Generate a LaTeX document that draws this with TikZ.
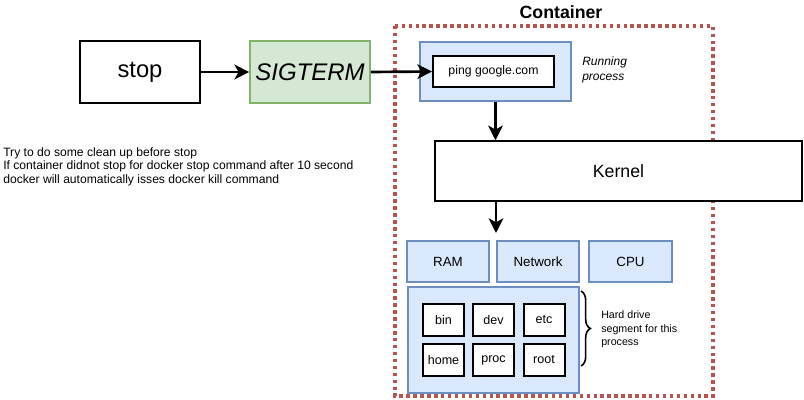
\documentclass[tikz,border=0pt]{standalone}
\usepackage{fontspec}
\setmainfont{Liberation Sans}
\usetikzlibrary{arrows.meta,decorations.pathreplacing}
\definecolor{bluefill}{HTML}{DAE8FC}
\definecolor{blueline}{HTML}{6C8EBF}
\definecolor{greenfill}{HTML}{D5E8D4}
\definecolor{greenline}{HTML}{82B366}
\definecolor{redline}{HTML}{B85450}
\tikzset{
  bigbox/.style={draw=black,line width=1.4pt,fill=white,minimum width=90pt,minimum height=46.5pt,inner sep=0pt,font=\fontsize{17.8}{21}\selectfont},
  sigbox/.style={draw=greenline,line width=1.2pt,fill=greenfill,minimum width=90pt,minimum height=46.5pt,inner sep=0pt,font=\fontsize{18}{21}\selectfont\itshape},
  bluebox/.style={draw=blueline,line width=0.9pt,fill=bluefill,inner sep=0pt},
  dirbox/.style={draw=black,line width=1.5pt,fill=white,minimum width=30.75pt,minimum height=24pt,inner sep=0pt,font=\fontsize{9.4}{11}\selectfont},
  flow/.style={-{Stealth[length=11pt,width=11pt,inset=3pt]},line width=2pt,black},
}
\begin{document}
\begin{tikzpicture}[x=0.75pt,y=-0.75pt]
\useasboundingbox (0,0) rectangle (804,400);
% container
\draw[redline,line width=2.4pt,dash pattern=on 2.6pt off 2.6pt] (395,26) rectangle (713,396);
\node[font=\fontsize{13.3}{15}\selectfont\bfseries] (ctitle) at (561,12) {Container};
% left side
\node[bigbox] (stop) at (140,72) {stop};
\node[sigbox] (sig) at (310,72) {SIGTERM};
\node[anchor=north west,align=left,inner sep=0pt,font=\fontsize{9.1}{10.2}\selectfont] (note) at (3,147)
 {Try to do some clean up before stop\\If container didnot stop for docker stop command after 10 second\\docker will automatically isses docker kill command};
% running process
\node[bluebox,minimum width=113.25pt,minimum height=44.25pt] (run) at (495.5,71.5) {};
\node[draw=black,line width=1.5pt,fill=white,minimum width=90.75pt,minimum height=23.25pt,inner sep=0pt,font=\fontsize{9.2}{11}\selectfont] (ping) at (493.5,71.5) {ping google.com};
\node[anchor=north west,align=left,inner sep=0pt,font=\fontsize{9}{11}\selectfont\itshape] (rlabel) at (582,57) {Running\\process};
% kernel
\node[draw=black,line width=1.1pt,fill=white,minimum width=275.25pt,minimum height=45pt,inner sep=0pt,font=\fontsize{13.3}{15}\selectfont] (kernel) at (618.5,171) {Kernel};
% resources
\node[bluebox,minimum width=61.5pt,minimum height=30.75pt,font=\fontsize{10}{12}\selectfont] (ram) at (448,261.5) {RAM};
\node[bluebox,minimum width=61.5pt,minimum height=30.75pt,font=\fontsize{10}{12}\selectfont] (net) at (538,261.5) {Network};
\node[bluebox,minimum width=62.25pt,minimum height=30.75pt,font=\fontsize{10}{12}\selectfont] (cpu) at (630.5,261.5) {CPU};
% hard drive
\node[bluebox,minimum width=128.25pt,minimum height=79.5pt] (hd) at (493.5,340) {};
\node[dirbox] (bin) at (443.5,320) {bin};
\node[dirbox] (dev) at (493.5,320) {dev};
\node[dirbox] (etc) at (544,320) {etc};
\node[dirbox] (home) at (443.5,360) {home};
\node[dirbox] (proc) at (493.5,360) {proc};
\node[dirbox] (root) at (544,360) {root};
\draw[decorate,decoration={brace,amplitude=7pt},line width=1.2pt] (581,291) -- (581,366);
\node[anchor=north west,align=left,inner sep=0pt,font=\fontsize{8}{9.8}\selectfont] (hdlabel) at (601,311) {Hard drive\\segment for this\\process};
% arrows
\coordinate (kend) at (496,233);
\draw[flow] (stop.east) -- (sig.west);
\draw[flow] (sig.east) -- (ping.west);
\draw[flow] (run.south) -- (run.south |- kernel.north);
\draw[flow] (kernel.south -| kend) -- (kend);
\end{tikzpicture}
\end{document}
